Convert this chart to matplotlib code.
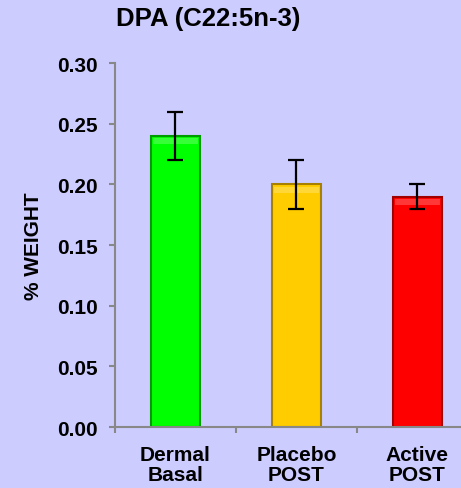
import matplotlib
matplotlib.use("Agg")
import matplotlib.pyplot as plt
import numpy as np

categories = ["Dermal\nBasal", "Placebo\nPOST", "Active\nPOST"]
values = [0.24, 0.20, 0.19]
errors = [0.02, 0.02, 0.01]
colors = ["#00FF00", "#FFCC00", "#FF0000"]
edge_colors = ["#009A00", "#A88000", "#A00000"]
yticks = [0.00, 0.05, 0.10, 0.15, 0.20, 0.25, 0.30]

plt.rcParams['font.family'] = ['Liberation Sans', 'DejaVu Sans']
bg = "#CCCCFF"

fig = plt.figure(figsize=(4.61, 4.89), dpi=100, facecolor=bg)
ax = fig.add_axes([0.2495, 0.1247, 0.787, 0.744], facecolor=bg)

x = np.arange(len(categories))
bar_w = 0.41
ax.bar(x, values, width=bar_w, color=colors, edgecolor=edge_colors,
       linewidth=1.5, zorder=2)
# lighter bevel strip near the top of each bar
for xi, v in zip(x, values):
    ax.bar(xi, 0.005, bottom=v - 0.007, width=bar_w - 0.04, color="white",
           alpha=0.22, linewidth=0, zorder=3)
ax.errorbar(x, values, yerr=errors, fmt="none", ecolor="black",
            elinewidth=1.6, capsize=6, capthick=1.6, zorder=4)

ax.set_xlim(-0.5, len(categories) - 0.5)
ax.set_ylim(0, 0.30)
ax.set_yticks(yticks)
ax.set_yticklabels([f"{t:.2f}" for t in yticks], fontsize=15, fontweight="bold")
ax.set_xticks(x)
ax.set_xticklabels(categories, fontsize=15, fontweight="bold", linespacing=1.05)
ax.tick_params(axis="x", length=0, pad=13)
ax.set_xticks(np.arange(len(categories) + 1) - 0.5, minor=True)
ax.tick_params(axis="x", which="minor", length=4, color="#888888", width=1.5)
ax.tick_params(axis="y", length=4.5, color="#888888", width=1.5, pad=8)

for side in ["top", "right"]:
    ax.spines[side].set_visible(False)
for side in ["left", "bottom"]:
    ax.spines[side].set_color("#888888")
    ax.spines[side].set_linewidth(1.5)

ax.set_ylabel("% WEIGHT", fontsize=15, fontweight="bold", labelpad=10)
fig.text(0.451, 0.961, "DPA (C22:5n-3)", ha="center", va="center",
         fontsize=18.5, fontweight="bold")

fig.savefig("out.png", dpi=100, facecolor=bg)
